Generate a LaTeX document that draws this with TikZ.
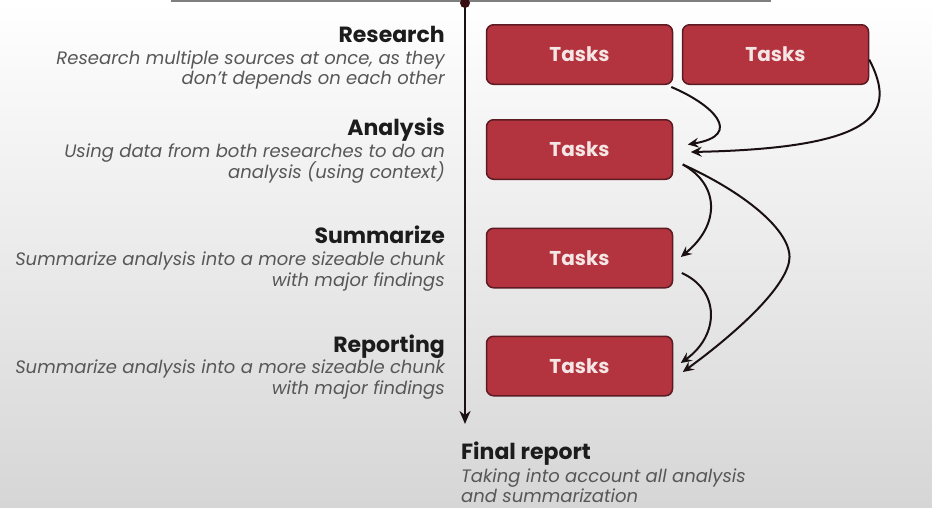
\documentclass[tikz,border=0pt]{standalone}
\usepackage{fontspec}
\setmainfont{Poppins}
\usetikzlibrary{arrows.meta,calc}
\definecolor{bgbot}{HTML}{D6D6D6}
\definecolor{boxfill}{HTML}{B3343F}
\definecolor{boxline}{HTML}{5C1A22}
\definecolor{boxtext}{HTML}{F5E6E6}
\definecolor{titlec}{HTML}{1C1C1C}
\definecolor{descc}{HTML}{575757}
\definecolor{arrowc}{HTML}{1A1012}
\definecolor{dotc}{HTML}{3A0D12}
\definecolor{topline}{HTML}{7F7F7F}
\begin{document}
\begin{tikzpicture}[x=1pt,y=-1pt,
  ttl/.style={inner sep=0pt,font=\fontsize{22}{24}\selectfont\bfseries,text=titlec},
  dsc/.style={inner sep=0pt,font=\fontsize{18}{20}\selectfont\itshape,text=descc},
  taskbox/.style={draw=boxline,line width=1.5pt,fill=boxfill,rounded corners=7pt,
    minimum width=186pt,minimum height=59.5pt,inner sep=0pt,
    font=\fontsize{20}{22}\selectfont\bfseries,text=boxtext},
  flow/.style={draw=arrowc,line width=2pt,-{Stealth[length=11pt,width=10pt,inset=4pt]}},
  axis/.style={draw=arrowc,line width=2.2pt,-{Stealth[length=13pt,width=11pt,inset=4pt]}}]
\useasboundingbox (0,0) rectangle (932,507);
\shade[top color=white,bottom color=bgbot] (0,0) rectangle (932,507);
% top rule
\coordinate (tl) at (171,1);
\coordinate (tr) at (771,1);
\draw[topline,line width=2.2pt] (tl) -- (tr);
% timeline
\coordinate (axtop) at (465,3);
\coordinate (axbot) at (465,424);
\draw[axis] (axtop) -- (axbot);
\fill[dotc] (axtop) circle[radius=5pt];
% left texts
\node[ttl,anchor=base east] (t1) at (445,42) {Research};
\node[dsc,anchor=base east] (d1a) at (445,64) {Research multiple sources at once, as they};
\node[dsc,anchor=base east] (d1b) at (445,84.5) {don’t depends on each other};
\node[ttl,anchor=base east] (t2) at (445,135) {Analysis};
\node[dsc,anchor=base east] (d2a) at (445,157) {Using data from both researches to do an};
\node[dsc,anchor=base east] (d2b) at (445,178) {analysis (using context)};
\node[ttl,anchor=base east] (t3) at (445,243) {Summarize};
\node[dsc,anchor=base east] (d3a) at (445,265) {Summarize analysis into a more sizeable chunk};
\node[dsc,anchor=base east] (d3b) at (445,286) {with major findings};
\node[ttl,anchor=base east] (t4) at (445,352) {Reporting};
\node[dsc,anchor=base east] (d4a) at (445,373) {Summarize analysis into a more sizeable chunk};
\node[dsc,anchor=base east] (d4b) at (445,394) {with major findings};
\node[ttl,anchor=base west] (t5) at (461,459) {Final report};
\node[dsc,anchor=base west] (d5a) at (461,482) {Taking into account all analysis};
\node[dsc,anchor=base west,text depth=0pt] (d5b) at (461,502) {and summarization};
% task boxes
\node[taskbox] (b1) at (579.5,54.5) {Tasks};
\node[taskbox] (b2) at (775.5,54.5) {Tasks};
\node[taskbox] (b3) at (579.5,149.5) {Tasks};
\node[taskbox] (b4) at (579.5,258) {Tasks};
\node[taskbox] (b5) at (579.5,366) {Tasks};
% connectors
\draw[flow] ($(b1.south east)+(-2,2)$) .. controls (712,104) and (745,135) .. ($(b3.east)+(14.5,-5)$);
\draw[flow] ($(b2.east)+(0,5)$) .. controls (895,110) and (885,148) .. ($(b3.east)+(17.5,2.5)$);
\draw[flow] ($(b3.east)+(9.5,15)$) .. controls (720,185) and (720,225) .. ($(b4.east)+(7.5,-1)$);
\draw[flow] ($(b3.east)+(9.5,15)$) .. controls (750,195) and (795,235) .. (789,262)
  .. controls (782,295) and (720,345) .. ($(b5.east)+(9.5,6)$);
\draw[flow] ($(b4.east)+(8.5,15)$) .. controls (720,290) and (720,335) .. ($(b5.east)+(7.5,-3)$);
\end{tikzpicture}
\end{document}
